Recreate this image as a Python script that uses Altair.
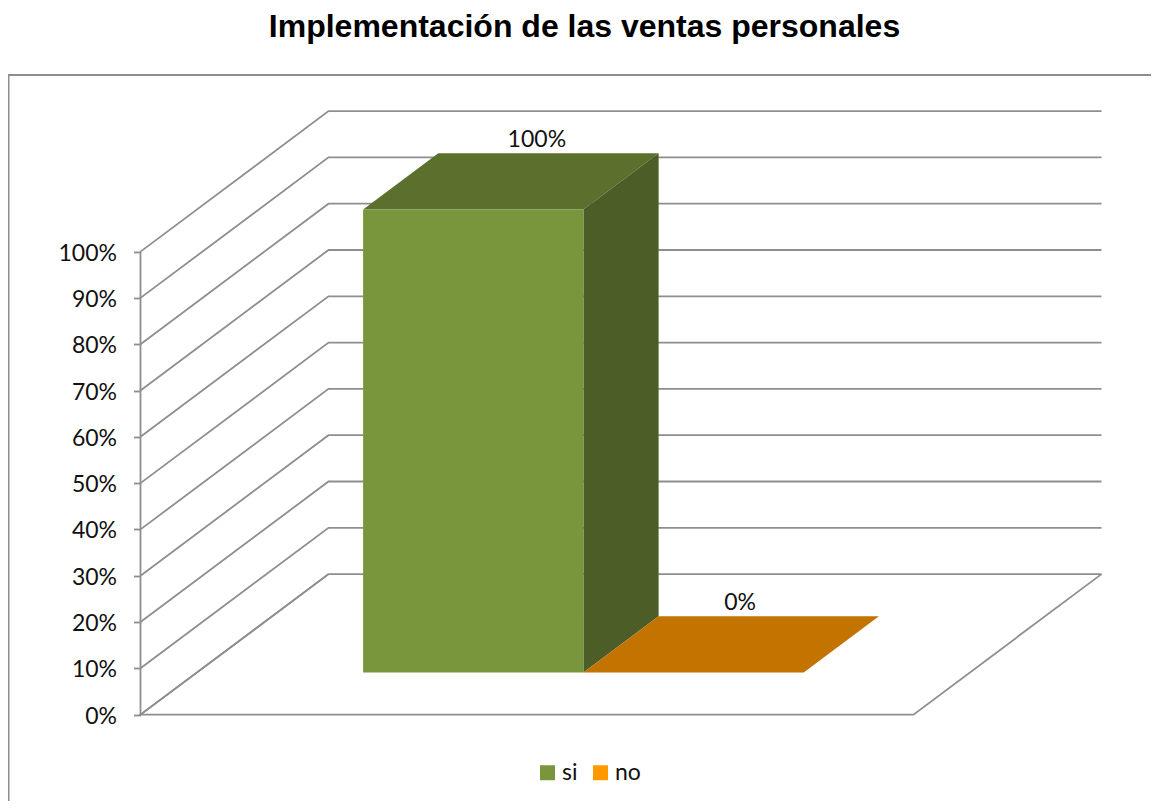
import altair as alt
import pandas as pd

TITLE = "Implementación de las ventas personales"
categories = ["si", "no"]
values = [100, 0]
labels = ["100%", "0%"]
ticks = [0, 10, 20, 30, 40, 50, 60, 70, 80, 90, 100]

FRONT = {"si": "#7a963c", "no": "#ff9900"}
TOP = {"si": "#5c702e", "no": "#c27300"}
SIDE = {"si": "#4c5d27", "no": "#a86400"}
GRID = "#8e8e8e"
FONT = "Lato"

# oblique projection of the 3D box: depth runs 0..1 and shears right and up
W, H = 1143, 733
PX_CAT, PX_PCT = 386.5, 4.63
DEPTH_X, DEPTH_Y = 188 / PX_CAT, 140.5 / PX_PCT
BASE_Y = 714.6
X_DOM = [(8 - 140.5) / PX_CAT, (8 + W - 140.5) / PX_CAT]
Y_DOM = [(BASE_Y - 68 - H) / PX_PCT, (BASE_Y - 68) / PX_PCT]
D0, D1 = 0.3, 0.7
BAR_L, BAR_W = 0.43, 0.57


def px(u, d):
    return u + d * DEPTH_X


def py(v, d):
    return v + d * DEPTH_Y


x_s = alt.Scale(domain=X_DOM, nice=False, zero=False)
y_s = alt.Scale(domain=Y_DOM, nice=False, zero=False)
y_axis = alt.Axis(
    values=ticks, labelExpr="datum.value + '%'", title=None, grid=False, domain=False,
    offset=-132.5, tickSize=7, tickColor=GRID, tickWidth=1.8, labelPadding=17, labelOffset=1.5,
    labelFont=FONT, labelFontSize=23, labelColor="#111111")
X = alt.X("x:Q", scale=x_s, axis=None)
Y = alt.Y("y:Q", scale=y_s, axis=y_axis)

# walls and floor
lines = []
for t in ticks:
    for o, (u, d) in enumerate([(0, 0), (0, 1), (2, 1)]):
        lines.append({"id": f"g{t}", "o": o, "x": px(u, d), "y": py(t, d)})
for o, (u, d) in enumerate([(0, 1), (0, 0), (2, 0), (2, 1)]):
    lines.append({"id": "floor", "o": o, "x": px(u, d), "y": py(0, d)})
for o, v in enumerate([0, 100]):
    lines.append({"id": "wall", "o": o, "x": px(0, 0), "y": py(v, 0)})

front, text = [], []
face_layers = []
LABEL_DX = {"si": 26 / PX_CAT, "no": 9 / PX_CAT}
for i, (c, v, lab) in enumerate(zip(categories, values, labels)):
    u0 = i + BAR_L if i == 0 else i
    u1 = u0 + BAR_W
    front.append({"cat": c, "x": px(u0, D0), "x2": px(u1, D0), "y": py(0, D0), "y2": py(v, D0)})
    top = [(px(u0, D0), py(v, D0), py(v, D0)), (px(u0, D1), py(v, D1), py(v, D0)),
           (px(u1, D0), py(v, D1), py(v, D0)), (px(u1, D1), py(v, D1), py(v, D1))]
    side = [(px(u1, D0), py(v, D0), py(0, D0)), (px(u1, D1), py(v, D1), py(0, D1))]
    for rows, fill in ((top, TOP[c]), (side, SIDE[c])):
        df = pd.DataFrame(rows, columns=["x", "y", "y2"])
        face_layers.append(
            alt.Chart(df).mark_area(interpolate="linear", color=fill).encode(x=X, y=Y, y2="y2:Q"))
    text.append({"label": lab, "x": (px(u0, D0) + px(u1, D1)) / 2 + LABEL_DX[c], "y": py(v, D1)})

line_layer = alt.Chart(pd.DataFrame(lines)).mark_line(color=GRID, strokeWidth=1.8).encode(
    x=X, y=Y, detail="id:N", order="o:Q")

front_layer = alt.Chart(pd.DataFrame(front)).mark_rect().encode(
    x=X, x2="x2:Q", y=Y, y2="y2:Q",
    color=alt.Color("cat:N",
                    scale=alt.Scale(domain=categories, range=[FRONT[c] for c in categories]),
                    legend=alt.Legend(title=None, orient="none", legendX=528, legendY=693,
                                      direction="horizontal", symbolType="square", symbolSize=225,
                                      symbolStrokeWidth=0, labelFont=FONT, labelFontSize=23,
                                      labelColor="#111111", labelOffset=3, columnPadding=11)))

text_layer = alt.Chart(pd.DataFrame(text)).mark_text(
    font=FONT, fontSize=23, color="#111111", baseline="bottom", dy=-1).encode(
    x=X, y=Y, text="label:N")

frame_top = alt.Chart(pd.DataFrame({"y": [0]})).mark_rule(color=GRID, strokeWidth=2).encode(
    x=alt.value(0), x2=alt.value(W), y=alt.value(7))
frame_left = alt.Chart(pd.DataFrame({"y": [0]})).mark_rule(color=GRID, strokeWidth=2).encode(
    x=alt.value(0.5), y=alt.value(7), y2=alt.value(H))

chart = alt.layer(frame_top, frame_left, line_layer, *face_layers, front_layer, text_layer).properties(
    width=W, height=H,
    title=alt.TitleParams(TITLE, font="Liberation Sans", fontSize=32, fontWeight="bold", color="#000000",
                          anchor="middle", dx=5, offset=24),
    padding={"left": 0, "right": 0, "top": 60, "bottom": 0},
    autosize=alt.AutoSizeParams(type="none"),
    background="white",
).configure_view(stroke=None)

chart.save("out.html", embed_options={"renderer": "svg", "actions": False})
